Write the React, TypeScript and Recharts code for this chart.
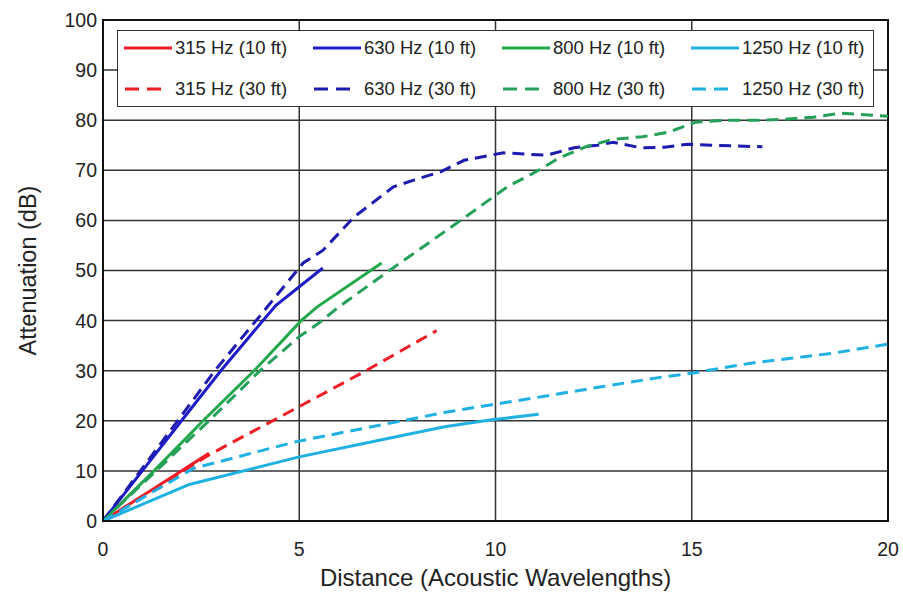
import React from 'react';
import { LineChart, Line, XAxis, YAxis, CartesianGrid, Legend, ReferenceArea } from 'recharts';

// distance in acoustic wavelengths vs attenuation (dB)
const f315near_x = [0, 1.3, 2.7];
const f315near_y = [0, 6.5, 13.5];
const f315far_x = [0, 2.7, 4.8, 6.7, 8.5];
const f315far_y = [0, 13.2, 22, 30, 38];

const f630near_x = [0, 1, 2, 3, 4.4, 5.6];
const f630near_y = [0, 10, 20, 30, 43, 50.5];
const f630far_x = [0, 1, 1.9, 2.85, 3.9, 5.1, 5.6, 6.4, 7.4, 7.9, 8.6, 9.2, 10.2, 11.3, 12, 12.6, 13, 13.7, 14.3, 14.9, 15.5, 16.8];
const f630far_y = [0, 10.5, 20, 30, 40, 51.5, 54, 60.7, 66.7, 68, 69.7, 72, 73.5, 73, 74.5, 75, 75.6, 74.5, 74.6, 75.2, 75, 74.7];

const f800near_x = [0, 1.3, 2.55, 3.85, 5.05, 5.45, 7.1];
const f800near_y = [0, 10, 20, 30, 40, 42.7, 51.5];
const f800far_x = [0, 1.35, 2.7, 4.0, 5.0, 5.5, 6.0, 7.3, 8.15, 9.2, 10.3, 11.1, 11.6, 12.3, 13.0, 13.75, 14.4, 15.1, 15.9, 16.7, 17.4, 18.1, 18.8, 20];
const f800far_y = [0, 10, 20, 30, 36.8, 39.5, 42.7, 50, 54.7, 60.5, 66.7, 70, 72.4, 74.7, 76.2, 76.7, 77.6, 79.6, 80, 80, 80.2, 80.6, 81.4, 80.8];

const f1250near_x = [0, 2.2, 5.0, 7.1, 8.7, 9.9, 11.1];
const f1250near_y = [0, 7.3, 12.8, 16.2, 18.8, 20.2, 21.3];
const f1250far_x = [0, 2.3, 4.9, 7.1, 8.8, 9.9, 11.4, 12.7, 14.3, 15.0, 16.5, 18.6, 20];
const f1250far_y = [0, 10.5, 15.8, 19.2, 21.8, 23.2, 25.1, 26.8, 28.8, 29.5, 31.5, 33.5, 35.3];

const xTicks = [0, 5, 10, 15, 20];
const yTicks = [0, 10, 20, 30, 40, 50, 60, 70, 80, 90, 100];

const toPoints = (xs: number[], ys: number[]) => xs.map((x, i) => ({ x, y: ys[i] }));

const series = [
  { name: '315 Hz (10 ft)', color: '#ee1c25', dashed: false, data: toPoints(f315near_x, f315near_y) },
  { name: '630 Hz (10 ft)', color: '#1c1cc8', dashed: false, data: toPoints(f630near_x, f630near_y) },
  { name: '800 Hz (10 ft)', color: '#22a84a', dashed: false, data: toPoints(f800near_x, f800near_y) },
  { name: '1250 Hz (10 ft)', color: '#1fb0e4', dashed: false, data: toPoints(f1250near_x, f1250near_y) },
  { name: '315 Hz (30 ft)', color: '#ee1c25', dashed: true, data: toPoints(f315far_x, f315far_y) },
  { name: '630 Hz (30 ft)', color: '#1c1cb0', dashed: true, data: toPoints(f630far_x, f630far_y) },
  { name: '800 Hz (30 ft)', color: '#24a058', dashed: true, data: toPoints(f800far_x, f800far_y) },
  { name: '1250 Hz (30 ft)', color: '#1fb0e4', dashed: true, data: toPoints(f1250far_x, f1250far_y) },
];

const font = '"Liberation Sans", Arial, sans-serif';
const gridColor = '#333';

const LegendBox = () => (
  <div
    style={{
      width: 757,
      height: 77,
      boxSizing: 'border-box',
      border: `1.5px solid ${gridColor}`,
      background: '#fff',
      display: 'grid',
      gridTemplateColumns: 'repeat(4, 189px)',
      gridTemplateRows: '34px 34px',
      rowGap: 7,
      paddingLeft: 6,
      fontFamily: font,
      fontSize: 18.5,
      color: '#222',
    }}
  >
    {series.map(s => (
      <div key={s.name} style={{ display: 'flex', alignItems: 'center', whiteSpace: 'nowrap' }}>
        <svg width={50} height={10} style={{ marginRight: 1 }}>
          {s.dashed ? (
            <line x1={1} y1={5} x2={37} y2={5} stroke={s.color} strokeWidth={3} strokeDasharray="14 8" />
          ) : (
            <line x1={0} y1={5} x2={48} y2={5} stroke={s.color} strokeWidth={3} />
          )}
        </svg>
        <span>{s.name}</span>
      </div>
    ))}
  </div>
);

const YTitle = ({ viewBox }: any) => {
  const x = viewBox.x + 20;
  const y = viewBox.y + viewBox.height / 2;
  return (
    <text x={x} y={y} transform={`rotate(-90, ${x}, ${y})`} textAnchor="middle" dominantBaseline="central"
      fontFamily={font} fontSize={23.5} fill="#222">
      Attenuation (dB)
    </text>
  );
};

export default function App() {
  return (
    <div style={{ position: 'absolute', left: 0, top: 0, width: 903, height: 597, background: '#fff' }}>
      <LineChart width={903} height={597} margin={{ top: 20, right: 15, left: 8, bottom: 4 }}>
        <CartesianGrid stroke={gridColor} strokeWidth={1.5} />
        <XAxis
          type="number"
          dataKey="x"
          domain={[0, 20]}
          ticks={xTicks}
          height={72}
          tickLine={false}
          tickSize={0}
          tickMargin={21}
          axisLine={{ stroke: '#111', strokeWidth: 2 }}
          tick={{ fill: '#222', fontSize: 19.5, fontFamily: font }}
          label={{ value: 'Distance (Acoustic Wavelengths)', position: 'insideBottom', offset: 7, fill: '#222', fontSize: 24, fontFamily: font }}
        />
        <YAxis
          type="number"
          domain={[0, 100]}
          ticks={yTicks}
          width={95}
          tickLine={false}
          tickSize={0}
          tickMargin={6}
          interval={0}
          axisLine={{ stroke: '#111', strokeWidth: 2 }}
          tick={{ fill: '#222', fontSize: 19.5, fontFamily: font }}
          label={<YTitle />}
        />
        <ReferenceArea x1={0} x2={20} y1={0} y2={100} fill="none" stroke="#111" strokeWidth={2} ifOverflow="visible" />
        {series.map(s => (
          <Line
            key={s.name}
            data={s.data}
            dataKey="y"
            name={s.name}
            type="linear"
            stroke={s.color}
            strokeWidth={3}
            strokeDasharray={s.dashed ? '12 7' : undefined}
            dot={false}
            activeDot={false}
            isAnimationActive={false}
          />
        ))}
        <Legend
          layout="vertical"
          verticalAlign="middle"
          align="center"
          content={<LegendBox />}
          wrapperStyle={{ position: 'absolute', left: 117, top: 30, width: 757, height: 77 }}
        />
      </LineChart>
    </div>
  );
}
